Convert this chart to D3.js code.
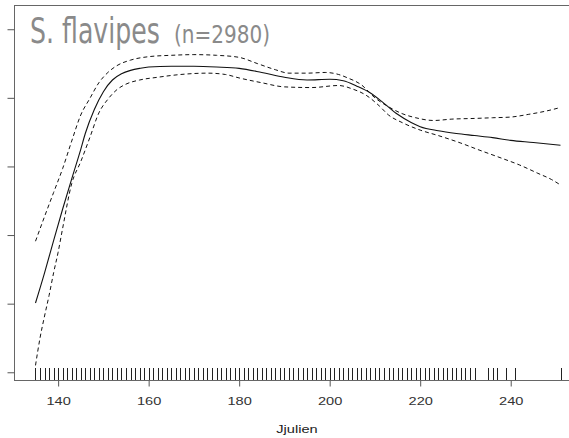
<!DOCTYPE html>
<html><head><meta charset="utf-8">
<script src="https://cdn.jsdelivr.net/npm/d3@7"></script>
<style>html,body{margin:0;padding:0;background:#fff;overflow:hidden}</style>
</head><body><svg id="c" width="569" height="438"></svg>
<script>
const titleMain = "S. flavipes";
const titleN = "(n=2980)";
const xLabel = "Jjulien";
const xTicks = [140, 160, 180, 200, 220, 240];
const yTicks = [-4, -3, -2, -1, 0, 1];

const fitDays   = [135, 137, 139, 141, 143, 145, 146, 148, 150, 152, 154, 156, 158, 160, 165, 170, 175, 180, 185, 190, 195, 200, 203, 206, 209, 212, 215, 218, 220, 224, 228, 232, 236, 240, 245, 251];
const fitValues = [-2.99, -2.55, -2.08, -1.62, -1.18, -0.75, -0.52, -0.17, 0.09, 0.26, 0.35, 0.40, 0.43, 0.45, 0.46, 0.46, 0.45, 0.43, 0.37, 0.30, 0.26, 0.27, 0.25, 0.17, 0.07, -0.08, -0.24, -0.36, -0.42, -0.48, -0.52, -0.55, -0.58, -0.62, -0.65, -0.69];

const upperDays   = [135, 137, 139, 141, 143, 145, 147, 149, 151, 153, 156, 160, 165, 170, 175, 180, 184, 188, 191, 195, 199, 202, 204, 207, 210, 213, 216, 219, 223, 227, 232, 236, 240, 244, 248, 251];
const upperValues = [-2.09, -1.73, -1.38, -1.03, -0.63, -0.25, -0.01, 0.22, 0.37, 0.47, 0.55, 0.60, 0.62, 0.63, 0.62, 0.59, 0.50, 0.41, 0.36, 0.36, 0.37, 0.34, 0.29, 0.19, 0.00, -0.13, -0.23, -0.29, -0.33, -0.31, -0.30, -0.29, -0.28, -0.24, -0.19, -0.14];

const lowerDays   = [135, 136, 137, 138, 139, 140, 141, 143, 145, 147, 149, 151, 153, 155, 158, 162, 167, 173, 177, 180, 185, 190, 196, 202, 205, 208, 211, 213, 216, 220, 224, 229, 233, 238, 242, 246, 249, 251];
const lowerValues = [-3.90, -3.50, -3.18, -2.88, -2.55, -2.25, -1.90, -1.25, -0.93, -0.58, -0.22, -0.02, 0.12, 0.20, 0.26, 0.30, 0.34, 0.36, 0.34, 0.29, 0.22, 0.16, 0.15, 0.18, 0.13, 0.04, -0.12, -0.25, -0.36, -0.47, -0.55, -0.66, -0.76, -0.88, -0.98, -1.10, -1.19, -1.27];

const rugDays = [135,136,137,138,139,140,141,142,143,144,145,146,147,148,149,150,151,152,153,154,155,156,157,158,159,160,161,162,163,164,165,166,167,168,169,170,171,172,173,174,175,176,177,178,179,180,181,182,183,184,185,186,187,188,189,190,191,192,193,194,195,196,197,198,199,200,201,202,203,204,205,206,207,208,209,210,211,212,213,214,215,216,217,218,219,220,221,222,223,224,225,226,227,228,229,230,231,232,235,236,237,239,241,251];

const svg = d3.select("#c");
const x = d3.scaleLinear().domain([130.36, 255.64]).range([14.5, 581.5]);
const y = d3.scaleLinear().domain([-4.12, 1.346]).range([380.5, 5.5]);

// box
svg.append("rect").attr("x", 14.5).attr("y", 5.5).attr("width", 567).attr("height", 375)
  .attr("fill", "none").attr("stroke", "#666").attr("stroke-width", 1);

// x axis
const xa = svg.append("g").attr("transform", "translate(0,380.5)")
  .call(d3.axisBottom(x).tickValues(xTicks).tickSize(6).tickSizeOuter(0).tickFormat(d3.format("d")));
xa.select(".domain").remove();
xa.selectAll("line").attr("stroke", "#555");
xa.selectAll("text").attr("y", 24.5).attr("dy", null)
  .attr("font-family", "Liberation Sans, Arial, sans-serif").attr("font-size", 11.6)
  .attr("fill", "#333").attr("transform", "scale(1.26,1)");

// y axis (labels fall outside the picture)
const ya = svg.append("g").attr("transform", "translate(14.5,0)")
  .call(d3.axisLeft(y).tickValues(yTicks).tickSize(7).tickSizeOuter(0).tickFormat(""));
ya.select(".domain").remove();
ya.selectAll("line").attr("stroke", "#555");

// x label
svg.append("text").attr("transform", `translate(${x((130.36 + 255.64) / 2) - 1},433) scale(1.26,1)`)
  .attr("text-anchor", "middle").attr("font-family", "Liberation Sans, Arial, sans-serif")
  .attr("font-size", 11.6).attr("fill", "#222").text(xLabel);

// rug
svg.append("g").selectAll("line").data(rugDays).join("line")
  .attr("x1", d => Math.round(x(d)) + 0.5).attr("x2", d => Math.round(x(d)) + 0.5)
  .attr("y1", 368).attr("y2", 380).attr("stroke", "#222").attr("stroke-width", 1)
  .attr("shape-rendering", "crispEdges");

// curves
const line = d3.line().x(d => x(d[0])).y(d => y(d[1])).curve(d3.curveMonotoneX);
const zip = (a, b) => a.map((d, i) => [d, b[i]]);
svg.append("path").attr("d", line(zip(upperDays, upperValues))).attr("fill", "none")
  .attr("stroke", "#111").attr("stroke-width", 1).attr("stroke-dasharray", "4,3");
svg.append("path").attr("d", line(zip(lowerDays, lowerValues))).attr("fill", "none")
  .attr("stroke", "#111").attr("stroke-width", 1).attr("stroke-dasharray", "4,3");
svg.append("path").attr("d", line(zip(fitDays, fitValues))).attr("fill", "none")
  .attr("stroke", "#111").attr("stroke-width", 1.1);

// title, squeezed horizontally to the reference widths
function fitText(str, x0, size, width) {
  const t = svg.append("text").attr("x", 0).attr("y", 0)
    .attr("font-family", "DejaVu Sans Condensed, DejaVu Sans, sans-serif").attr("font-stretch", "condensed")
    .attr("font-size", size).attr("fill", "#8a8a8a").text(str);
  const w = t.node().getComputedTextLength();
  t.attr("transform", `translate(${x0},43) scale(${width / w},1)`);
}
fitText(titleMain, 30, 35, 130);
fitText(titleN, 174, 25, 96);
</script>
</body></html>
